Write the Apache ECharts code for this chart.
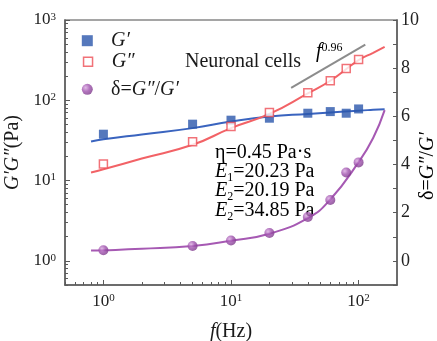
<!DOCTYPE html>
<html>
<head>
<meta charset="utf-8">
<script src="https://cdn.jsdelivr.net/npm/echarts@6/dist/echarts.min.js"></script>
<style>
html, body { margin: 0; padding: 0; background: #fff; }
#chart { width: 437px; height: 341px; }
</style>
</head>
<body>
<div id="chart"></div>
<script>
// measured points
const freq = [1, 5, 10, 20, 40, 60, 80, 100];
const gStorage = [37.8, 50.4, 56.5, 59.8, 69, 72.3, 69, 78];
const gLoss = [16.1, 30.4, 47, 70.2, 124, 175, 249, 323];
const delta = [0.44, 0.62, 0.85, 1.16, 1.82, 2.53, 3.67, 4.09];

// fitted curves
const fitFreq = [0.8, 1, 2, 5, 10, 20, 40, 60, 100, 130, 160];
const gStorageFit = [30.6, 32.6, 37.5, 45, 54.3, 62.7, 67.6, 70.5, 74.3, 76, 77.3];
const gLossFit = [12.6, 13.8, 18.8, 27.9, 45, 67.6, 122, 175, 316, 390, 462];
const deltaFit = [0.43, 0.44, 0.5, 0.62, 0.84, 1.13, 1.78, 2.55, 4.1, 5.1, 6.26];

// f^0.96 guide line
const slopeFreq = [29.6, 112.9];
const slopeVal = [143, 495];

// ticks
const xMajor = [1, 10, 100];
const xMinor = [0.5, 0.6, 0.7, 0.8, 0.9, 2, 3, 4, 5, 6, 7, 8, 9, 20, 30, 40, 50, 60, 70, 80, 90];
const yMajor = [1, 10, 100, 1000];
const yMinor = [0.5, 0.6, 0.7, 0.8, 0.9, 2, 3, 4, 5, 6, 7, 8, 9, 20, 30, 40, 50, 60, 70, 80, 90,
  200, 300, 400, 500, 600, 700, 800, 900];

const SERIF = 'Liberation Serif';
const AXIS = '#5a5a5a';
const BLUE = '#2a56ab';
const RED = '#ee4f56';
const PURPLE = '#a052ae';

const pairs = (xs, ys) => xs.map((x, i) => [x, ys[i]]);

const powLabel = {
  formatter: v => '{b|10}{s|' + Math.round(Math.log10(v)) + '}',
  rich: {
    b: { fontFamily: SERIF, fontSize: 17, color: '#222' },
    s: { fontFamily: SERIF, fontSize: 11, color: '#222', verticalAlign: 'top', padding: [0, 0, 6, 0] }
  }
};

const richText = {
  n: { fontFamily: SERIF, fontSize: 20, color: '#1a1a1a' },
  i: { fontFamily: SERIF, fontSize: 20, color: '#1a1a1a', fontStyle: 'italic' },
  sup: { fontFamily: SERIF, fontSize: 12, color: '#1a1a1a', verticalAlign: 'top', lineHeight: 8 }
};

// E with subscript: main text top aligned, subscript centred lower
const subText = {
  n: { fontFamily: SERIF, fontSize: 20, color: '#1a1a1a', lineHeight: 20, verticalAlign: 'top' },
  i: { fontFamily: SERIF, fontSize: 20, color: '#1a1a1a', fontStyle: 'italic', lineHeight: 20, verticalAlign: 'top' },
  sub: { fontFamily: SERIF, fontSize: 12, color: '#1a1a1a', lineHeight: 32, verticalAlign: 'middle' }
};

const purpleBall = new echarts.graphic.RadialGradient(0.35, 0.35, 0.7, [
  { offset: 0, color: '#d9a8e0' },
  { offset: 0.5, color: PURPLE },
  { offset: 1, color: '#7d3a8a' }
]);

let myChart = echarts.init(document.getElementById('chart'));

function legendAt(name, icon, size, centerY, itemStyle, text) {
  const left = 87.3 - size / 2;
  return {
    data: [{ name: name, icon: icon }],
    orient: 'vertical',
    padding: 0,
    left: left,
    top: centerY - 10,
    itemWidth: size,
    itemHeight: size,
    selectedMode: false,
    itemStyle: itemStyle,
    formatter: () => text,
    textStyle: {
      fontFamily: SERIF, fontSize: 20, lineHeight: 20, color: '#1a1a1a',
      padding: [0, 0, 0, 111 - (left + size + 5)], rich: richText
    }
  };
}

let option = {
  animation: false,
  backgroundColor: '#fff',
  grid: {
    left: 65, right: 40, top: 20, bottom: 56, show: true,
    borderColor: '#888', borderWidth: 1.5, outerBoundsMode: 'none'
  },
  legend: [
    legendAt('G′', 'rect', 11, 40.7, { color: BLUE }, '{i|G′}'),
    legendAt('G″', 'rect', 9, 61.7, { color: '#fff', borderColor: RED, borderWidth: 1.5 }, '{i|G″}'),
    legendAt('δ=G″/G′', 'circle', 11, 89.3, { color: purpleBall }, '{n|δ=}{i|G″}{n|/}{i|G′}')
  ],
  xAxis: [
    {
      type: 'log', logBase: 10, min: 0.5, max: 200, position: 'bottom',
      name: '{i|f}{n|(Hz)}', nameLocation: 'middle', nameGap: 37,
      nameTextStyle: { rich: richText },
      axisLine: { onZero: false, lineStyle: { color: AXIS, width: 1.5 } },
      axisTick: { inside: true, length: 5, customValues: xMajor, lineStyle: { color: AXIS } },
      axisLabel: Object.assign({ customValues: xMajor, margin: 8 }, powLabel),
      splitLine: { show: false }
    },
    {
      type: 'log', logBase: 10, min: 0.5, max: 200, position: 'bottom',
      axisLine: { show: false, onZero: false },
      axisTick: { inside: true, length: 3, customValues: xMinor, lineStyle: { color: AXIS } },
      axisLabel: { show: false },
      splitLine: { show: false }
    }
  ],
  yAxis: [
    {
      type: 'log', logBase: 10, min: 0.5, max: 1000, position: 'left',
      name: '{i|G′G″}{n|(Pa)}', nameLocation: 'middle', nameGap: 40,
      nameTextStyle: { rich: richText },
      axisLine: { onZero: false, lineStyle: { color: AXIS, width: 1.5 } },
      axisTick: { inside: true, length: 5, customValues: yMajor, lineStyle: { color: AXIS } },
      axisLabel: Object.assign({ customValues: yMajor, margin: 9 }, powLabel),
      splitLine: { show: false }
    },
    {
      type: 'log', logBase: 10, min: 0.5, max: 1000, position: 'left',
      axisLine: { show: false, onZero: false },
      axisTick: { inside: true, length: 3, customValues: yMinor, lineStyle: { color: AXIS } },
      axisLabel: { show: false },
      splitLine: { show: false }
    },
    {
      type: 'value', min: -1, max: 10, interval: 1, position: 'right',
      axisLine: { onZero: false, lineStyle: { color: AXIS, width: 1.5 } },
      axisTick: { inside: true, length: 4, lineStyle: { color: AXIS } },
      axisLabel: {
        margin: 4, fontFamily: SERIF, fontSize: 18, color: '#222',
        formatter: v => (v >= 0 && v % 2 === 0) ? String(v) : ''
      },
      splitLine: { show: false }
    }
  ],
  graphic: [
    { type: 'text', x: 185, y: 62, style: { text: 'Neuronal cells', font: '20px "Liberation Serif"', fill: '#1a1a1a', verticalAlign: 'middle' } },
    { type: 'text', x: 316, y: 52, style: { text: '{i|f}{sup|0.96}', rich: richText, verticalAlign: 'middle' } },
    { type: 'text', x: 215, y: 152.7, style: { text: '{n|η=0.45 Pa·s}', rich: richText, verticalAlign: 'middle' } },
    { type: 'text', x: 215, y: 161.7, style: { text: '{i|E}{sub|1}{n|=20.23 Pa}', rich: subText, verticalAlign: 'top' } },
    { type: 'text', x: 215, y: 181, style: { text: '{i|E}{sub|2}{n|=20.19 Pa}', rich: subText, verticalAlign: 'top' } },
    { type: 'text', x: 215, y: 201, style: { text: '{i|E}{sub|2}{n|=34.85 Pa}', rich: subText, verticalAlign: 'top' } },
    { type: 'text', x: 428, y: 166, rotation: Math.PI / 2, style: { text: '{n|δ=}{i|G″}{n|/}{i|G′}', rich: richText, align: 'center', verticalAlign: 'middle' } }
  ],
  series: [
    {
      name: 'G′ fit', type: 'line', smooth: true, showSymbol: false,
      lineStyle: { color: '#3a64bf', width: 2 }, data: pairs(fitFreq, gStorageFit), z: 2
    },
    {
      name: 'G″ fit', type: 'line', smooth: true, showSymbol: false,
      lineStyle: { color: '#f26266', width: 2 }, data: pairs(fitFreq, gLossFit), z: 2
    },
    {
      name: 'δ fit', type: 'line', smooth: true, showSymbol: false, yAxisIndex: 2,
      lineStyle: { color: '#a659b3', width: 2 }, data: pairs(fitFreq, deltaFit), z: 2
    },
    {
      name: 'slope', type: 'line', showSymbol: false,
      lineStyle: { color: '#8c8c8c', width: 2 }, data: pairs(slopeFreq, slopeVal), z: 2
    },
    {
      name: 'G′', type: 'scatter', symbol: 'rect', symbolSize: 9,
      itemStyle: { color: BLUE }, data: pairs(freq, gStorage), z: 3
    },
    {
      name: 'G″', type: 'scatter', symbol: 'rect', symbolSize: 8,
      itemStyle: { color: '#fff', borderColor: RED, borderWidth: 1.5 }, data: pairs(freq, gLoss), z: 3
    },
    {
      name: 'δ=G″/G′', type: 'scatter', symbol: 'circle', symbolSize: 10, yAxisIndex: 2,
      itemStyle: { color: purpleBall }, data: pairs(freq, delta), z: 3
    }
  ]
};

myChart.setOption(option);
</script>
</body>
</html>
